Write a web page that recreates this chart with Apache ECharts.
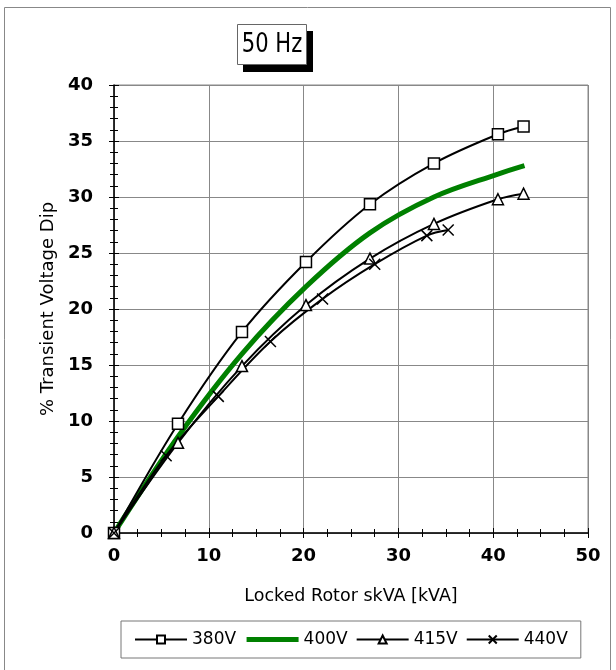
<!DOCTYPE html>
<head>
    <meta charset="utf-8">
    <title>50 Hz transient voltage dip</title>
    <style>
        html, body { margin: 0; padding: 0; background: #fff; }
        #chart { width: 616px; height: 670px; }
    </style>
</head>
<body>
    <div id="chart"></div>
    <script src="https://cdn.jsdelivr.net/npm/echarts@6/dist/echarts.min.js"></script>
    <script>
        // locked rotor skVA (kVA) and % dip
        var kva380 = [0, 6.75, 13.5, 20.25, 27, 33.75, 40.5, 43.2];
        var dip380 = [0, 9.75, 17.95, 24.2, 29.35, 33.0, 35.6, 36.3];

        var kva400 = [0, 6.75, 13.5, 20.25, 27, 33.75, 40.5, 43.3];
        var dip400 = [0, 8.6, 16.0, 22.0, 26.8, 30.0, 32.05, 32.8];

        var kva415 = [0, 6.75, 13.5, 20.25, 27, 33.75, 40.5, 43.2];
        var dip415 = [0, 8.05, 14.9, 20.35, 24.5, 27.6, 29.8, 30.3];

        var kva440 = [0, 5.5, 11, 16.5, 22, 27.5, 33, 35.25];
        var dip440 = [0, 6.9, 12.2, 17.1, 20.9, 24.0, 26.55, 27.05];

        var seriesNames = ['380V', '400V', '415V', '440V'];
        var xTicks = [0, 10, 20, 30, 40, 50];
        var yTicks = [0, 5, 10, 15, 20, 25, 30, 35, 40];

        function pairs(xs, ys) {
            return xs.map(function (x, i) { return [x, ys[i]]; });
        }

        var txt = 'DejaVu Sans';
        var chart = echarts.init(document.getElementById('chart'));

        function markerSeries(name, data, symbol) {
            return {
                name: name,
                type: 'line',
                data: data,
                smooth: 0.35,
                symbol: symbol,
                symbolSize: 11,
                lineStyle: { color: '#000', width: 2 },
                itemStyle: { color: '#fff', borderColor: '#000', borderWidth: 1.5 },
                emphasis: { disabled: true },
                z: 3
            };
        }

        // second pair of axes only draws the inner half of the crossing ticks
        var tickAxisX = {
            type: 'value', min: xTicks[0], max: xTicks[xTicks.length - 1], interval: 10,
            position: 'bottom',
            axisLine: { show: false },
            axisLabel: { show: false },
            splitLine: { show: false },
            axisTick: { show: true, inside: true, length: 5, lineStyle: { color: '#000' } },
            minorTick: { show: true, splitNumber: 4, length: 4, lineStyle: { color: '#000' } }
        };
        var tickAxisY = {
            type: 'value', min: yTicks[0], max: yTicks[yTicks.length - 1], interval: 5,
            position: 'left',
            axisLine: { show: false },
            axisLabel: { show: false },
            splitLine: { show: false },
            axisTick: { show: true, inside: true, length: 5, lineStyle: { color: '#000' } },
            minorTick: { show: true, splitNumber: 5, length: 4, lineStyle: { color: '#000' } }
        };

        var option = {
            animation: false,
            backgroundColor: '#fff',
            grid: {
                left: 114, right: 28, top: 85, bottom: 137,
                show: true, borderColor: '#888', borderWidth: 1
            },
            graphic: [
                {
                    type: 'rect', z: -10,
                    shape: { x: 4.5, y: 7.5, width: 606, height: 670 },
                    style: { fill: 'none', stroke: '#888', lineWidth: 1 }
                },
                {
                    type: 'rect',
                    shape: { x: 243, y: 31, width: 70, height: 41 },
                    style: { fill: '#000' }
                },
                {
                    type: 'rect',
                    shape: { x: 237.5, y: 24.5, width: 69, height: 40 },
                    style: { fill: '#fff', stroke: '#666', lineWidth: 1 }
                },
                {
                    type: 'text', x: 272, y: 45, scaleX: 0.78,
                    style: {
                        text: '50 Hz', fill: '#000',
                        font: '27px "DejaVu Sans"',
                        align: 'center', verticalAlign: 'middle'
                    }
                }
            ],
            legend: {
                data: [
                    { name: seriesNames[0] },
                    { name: seriesNames[1], itemStyle: { opacity: 0 }, lineStyle: { width: 5 } },
                    { name: seriesNames[2] },
                    { name: seriesNames[3] }
                ],
                left: 121, top: 621,
                padding: [10, 13],
                itemGap: 8,
                itemWidth: 52,
                itemHeight: 10,
                borderColor: '#777',
                borderWidth: 1,
                textStyle: { fontFamily: txt, fontSize: 17, color: '#000' }
            },
            xAxis: [{
                type: 'value', min: xTicks[0], max: xTicks[xTicks.length - 1], interval: 10,
                position: 'bottom',
                name: 'Locked Rotor skVA [kVA]',
                nameLocation: 'middle',
                nameGap: 54,
                nameTextStyle: { fontFamily: txt, fontSize: 17.5, color: '#000' },
                axisLine: { show: true, lineStyle: { color: '#000', width: 1.5 } },
                axisTick: { show: true, length: 5, lineStyle: { color: '#000' } },
                minorTick: { show: true, splitNumber: 4, length: 4, lineStyle: { color: '#000' } },
                axisLabel: { fontFamily: txt, fontWeight: 'bold', fontSize: 18, color: '#000', margin: 14 },
                splitLine: { show: true, lineStyle: { color: '#888', width: 1 } }
            }, tickAxisX],
            yAxis: [{
                type: 'value', min: yTicks[0], max: yTicks[yTicks.length - 1], interval: 5,
                position: 'left',
                name: '% Transient Voltage Dip',
                nameLocation: 'middle',
                nameGap: 54,
                nameRotate: 90,
                nameTextStyle: { fontFamily: txt, fontSize: 18, color: '#000' },
                axisLine: { show: true, lineStyle: { color: '#000', width: 1.5 } },
                axisTick: { show: true, length: 5, lineStyle: { color: '#000' } },
                minorTick: { show: true, splitNumber: 5, length: 4, lineStyle: { color: '#000' } },
                axisLabel: { fontFamily: txt, fontWeight: 'bold', fontSize: 18, color: '#000', margin: 21 },
                splitLine: { show: true, lineStyle: { color: '#888', width: 1 } }
            }, tickAxisY],
            series: [
                markerSeries('380V', pairs(kva380, dip380), 'rect'),
                {
                    name: '400V',
                    type: 'line',
                    data: pairs(kva400, dip400),
                    smooth: 0.35,
                    symbol: 'none',
                    lineStyle: { color: '#008000', width: 5 },
                    itemStyle: { color: '#008000' },
                    emphasis: { disabled: true },
                    z: 2
                },
                markerSeries('415V', pairs(kva415, dip415), 'triangle'),
                markerSeries('440V', pairs(kva440, dip440), 'path://M0,0L10,10M10,0L0,10')
            ]
        };
        chart.setOption(option);
    </script>
</body>
